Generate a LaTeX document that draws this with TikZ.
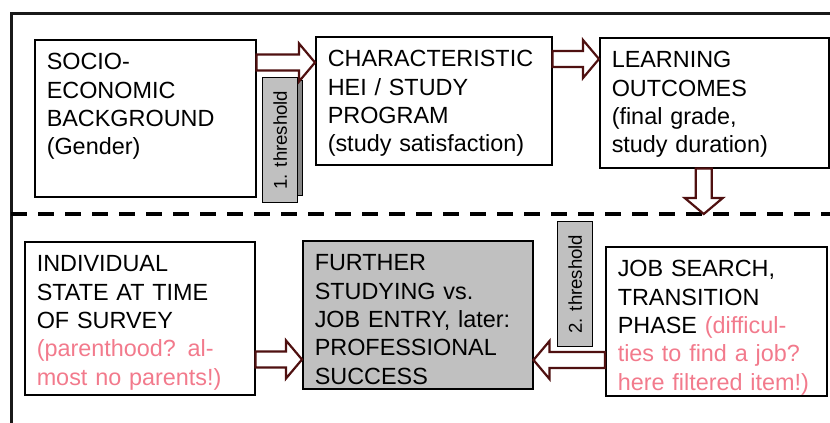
\documentclass[tikz,border=0pt]{standalone}
\usepackage{fontspec}
\setmainfont{Liberation Sans}
\usepackage{graphicx}
\usetikzlibrary{calc, positioning}
\definecolor{ArrowRed}{HTML}{4F1010}
\definecolor{NotePink}{HTML}{F27A8C}
\definecolor{Silver}{HTML}{C0C0C0}

\begin{document}
\begin{tikzpicture}[x=0.5pt, y=-0.5pt,
    stage/.style={rectangle, draw=black, line width=0.75pt, anchor=north west,
                  align=left, inner xsep=6pt, inner ysep=6pt, text height=9pt,
                  font=\fontsize{11.7}{14.2}\selectfont, text=black},
    thresh/.style={rectangle, draw=black, fill=Silver, line width=0.6pt, anchor=north west,
                   minimum width=17.5pt, minimum height=62.5pt, inner sep=0pt,
                   font=\fontsize{9.3}{11}\selectfont},
    hollow/.style={draw=ArrowRed, fill=white, line width=1.1pt, line join=miter,
                   to path={let \p1=($(\tikztotarget)!8pt!(\tikztostart)$) in
                     ($(\tikztostart)!4pt!90:(\tikztotarget)$)
                     -- ($(\p1)!4pt!-90:(\tikztostart)$)
                     -- ($(\p1)!9.5pt!-90:(\tikztostart)$)
                     -- (\tikztotarget)
                     -- ($(\p1)!9.5pt!90:(\tikztostart)$)
                     -- ($(\p1)!4pt!90:(\tikztostart)$)
                     -- ($(\tikztostart)!4pt!-90:(\tikztotarget)$)
                     -- cycle \tikztonodes}},
    frame/.style={line width=1.5pt, draw=black!90}
  ]
  \useasboundingbox (0,0) rectangle (830,423);

  \coordinate (corner) at (11,13);
  \coordinate (sepL) at (11,214);
  \coordinate (sepR) at (830,214);
  \draw[frame] (830,13) -- (corner) -- (11,423);
  \draw[line width=2.4pt, dash pattern=on 7.75pt off 5.75pt] (sepL) -- (sepR);

  \node[stage, text width=98.5pt, text depth=57.5pt] (socio) at (34,39)
    {SOCIO-\\ECONOMIC\\BACKGROUND\\(Gender)};
  \node[stage, text width=106pt, text depth=43pt] (charac) at (315,36)
    {CHARACTERISTIC\\HEI / STUDY\\PROGRAM\\(study satisfaction)};
  \node[stage, text width=102.5pt, text depth=44pt] (learn) at (599,37)
    {LEARNING\\OUTCOMES\\(final grade,\\study duration)};

  \node[stage, text width=103pt, text depth=55.5pt] (indiv) at (24,241)
    {INDIVIDUAL\\STATE AT TIME\\OF SURVEY\\\textcolor{NotePink}{(parenthood? al-}\\\textcolor{NotePink}{most no parents!)}};
  \node[stage, fill=Silver, text width=103pt, text depth=53pt] (further) at (302,240)
    {FURTHER\\STUDYING vs.\\JOB ENTRY, later:\\PROFESSIONAL\\SUCCESS};
  \node[stage, text width=98.5pt, text depth=53.5pt] (job) at (605,246)
    {JOB SEARCH,\\TRANSITION\\PHASE \textcolor{NotePink}{(difficul-}\\\textcolor{NotePink}{ties to find a job?}\\\textcolor{NotePink}{here filtered item!)}};

  \draw[fill=Silver!70!black, line width=0.5pt] (265,80) rectangle (302,195);
  \node[thresh] (th1) at (262,77) {\rotatebox{90}{1. threshold}};
  \node[thresh] (th2) at (557,221) {\rotatebox{90}{2. threshold}};

  \coordinate (a1) at ([yshift=-11.75pt]socio.north east);
  \coordinate (a2) at ([yshift=-11.5pt]charac.north east);
  \coordinate (a3) at ([xshift=-5.25pt]learn.south);
  \coordinate (a4) at ([yshift=18pt]indiv.south east);
  \coordinate (a5) at ([yshift=18.25pt]job.south west);
  \draw[hollow] (a1) to (a1 -| charac.west);
  \draw[hollow] (a2) to (a2 -| learn.west);
  \draw[hollow] (a3) to (a3 |- sepL);
  \draw[hollow] (a4) to (a4 -| further.west);
  \draw[hollow] (a5) to (a5 -| further.east);
\end{tikzpicture}
\end{document}
